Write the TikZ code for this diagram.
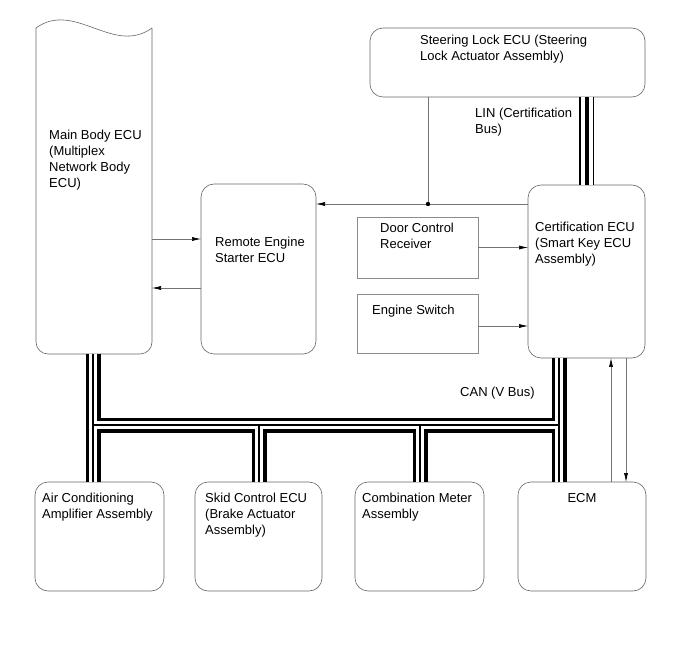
\documentclass[tikz,border=0pt]{standalone}
\usepackage{fontspec}
\setmainfont{Liberation Sans}
\usetikzlibrary{arrows.meta}

\begin{document}
\begin{tikzpicture}[x=1pt, y=-1pt,
  ecu/.style={draw=black!60, line width=0.6pt, rounded corners=13pt, inner sep=0pt, outer sep=0pt},
  plainbox/.style={draw=black!45, line width=0.6pt, inner sep=0pt, outer sep=0pt},
  lbl/.style={font=\fontsize{13pt}{16pt}\selectfont, anchor=north west, align=left, inner sep=0pt},
  conn/.style={draw=black!55, line width=0.6pt},
  tip/.style={-{Latex[length=9pt,width=4pt,color=black]}},
  canbus/.style={line width=3.5pt, double=white, double distance=8pt},
  canwire/.style={line width=1.2pt},
  linbus/.style={line width=1.4pt, double=white, double distance=12pt},
  linwire/.style={line width=4pt}]
\useasboundingbox (0,0) rectangle (691,660);

% ECU boxes
\node [inner sep=0pt, outer sep=0pt, minimum width=116pt, minimum height=326pt] (mbecu) at (94,191) {};
\draw [draw=black!60, line width=0.6pt] (mbecu.north west) .. controls +(38.7,-28) and +(-38.7,28) .. (mbecu.north east);
\draw [draw=black!60, line width=0.6pt, rounded corners=12pt] (mbecu.north east) -- (mbecu.south east) -- (mbecu.south west) -- (mbecu.north west);
\node [ecu, minimum width=115pt, minimum height=170pt] (res) at (258.5,269) {};
\node [ecu, minimum width=275pt, minimum height=69pt] (slecu) at (507.5,62.5) {};
\node [ecu, minimum width=117pt, minimum height=173pt] (cert) at (586.5,271.5) {};
\node [plainbox, minimum width=121pt, minimum height=61pt] (dcr) at (417.5,247.5) {};
\node [plainbox, minimum width=121pt, minimum height=59pt] (esw) at (417.5,323.5) {};
\node [ecu, minimum width=129pt, minimum height=109pt] (ac) at (99.5,536.5) {};
\node [ecu, minimum width=127pt, minimum height=109pt] (skid) at (258.5,536.5) {};
\node [ecu, minimum width=129pt, minimum height=109pt] (comb) at (419.5,536.5) {};
\node [ecu, minimum width=128pt, minimum height=109pt] (ecm) at (582,536.5) {};

% labels
\node [lbl] (mbecu-t) at (49,129.5) {Main Body ECU\\(Multiplex\\Network Body\\ECU)};
\node [lbl] (res-t) at (215,237.3) {Remote Engine\\Starter ECU};
\node [lbl] (slecu-t) at (420,35) {Steering Lock ECU (Steering\\Lock Actuator Assembly)};
\node [lbl] (lin-t) at (475,108.3) {LIN (Certification\\Bus)};
\node [lbl] (dcr-t) at (380,222.7) {Door Control\\Receiver};
\node [lbl] (esw-t) at (372,305) {Engine Switch};
\node [lbl] (cert-t) at (535,221.7) {Certification ECU\\(Smart Key ECU\\Assembly)};
\node [lbl] (can-t) at (460,387.3) {CAN (V Bus)};
\node [lbl] (ac-t) at (42,493.3) {Air Conditioning\\Amplifier Assembly};
\node [lbl] (skid-t) at (205,493.3) {Skid Control ECU\\(Brake Actuator\\Assembly)};
\node [lbl] (comb-t) at (362,493.3) {Combination Meter\\Assembly};
\node [lbl, anchor=north] (ecm-t) at (582,493.3) {ECM};

% CAN bus
\coordinate (b1) at (93,425);
\coordinate (b2) at (259,425);
\coordinate (b3) at (420,425);
\coordinate (b4) at (559,425);
\foreach \s in {canbus, canwire}
  \draw [\s] (mbecu.south -| b1) -- (ac.north -| b1) (b1) -- (b4)
    (cert.south -| b4) -- (ecm.north -| b4)
    (b2) -- (skid.north -| b2) (b3) -- (comb.north -| b3);

% LIN bus
\foreach \s in {linbus, linwire}
  \draw [\s] (slecu.south -| cert.north) -- (cert.north);

% signal lines
\coordinate (jn) at (428,204);
\coordinate (up) at (611,0);
\coordinate (dn) at (626,0);
\draw [conn, tip] ([yshift=30pt]res.west -| mbecu.east) -- ([yshift=30pt]res.west);
\draw [conn, tip] ([yshift=-19pt]res.west) -- ([yshift=-19pt]res.west -| mbecu.east);
\draw [conn, tip] (cert.west |- jn) -- (res.east |- jn);
\draw [conn] (slecu.south -| jn) -- (jn);
\fill (jn) circle (2.2pt);
\draw [conn, tip] (dcr.east) -- (dcr.east -| cert.west);
\draw [conn, tip] ([yshift=-2.5pt]esw.east) -- ([yshift=-2.5pt]esw.east -| cert.west);
\draw [conn, tip] (ecm.north -| up) -- (cert.south -| up);
\draw [conn, tip] (cert.south -| dn) -- (ecm.north -| dn);
\end{tikzpicture}
\end{document}
